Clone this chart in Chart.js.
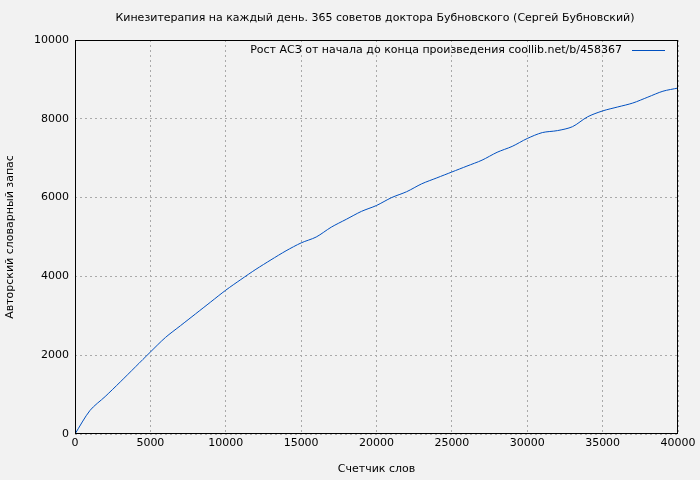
<!DOCTYPE html>
<html><head><meta charset="utf-8">
<script src="https://cdn.jsdelivr.net/npm/chart.js@4"></script>
<style>html,body{margin:0;background:#f2f2f2}#w{width:700px;height:480px}</style>
</head><body><div id="w"><canvas id="c"></canvas></div>
<script>
const words=[0,1000,2000,3000,4000,5000,6000,7000,8000,9000,10000,11000,12000,13000,14000,15000,16000,17000,18000,19000,20000,21000,22000,23000,24000,25000,26000,27000,28000,29000,30000,31000,32000,33000,34000,35000,36000,37000,38000,39000,40000];
const vocab=[0,600,950,1320,1700,2080,2450,2750,3050,3350,3650,3920,4180,4420,4650,4850,5000,5250,5450,5650,5800,6000,6150,6350,6500,6650,6800,6950,7150,7300,7500,7650,7700,7800,8050,8200,8300,8400,8550,8700,8780];
const title="Кинезитерапия на каждый день. 365 советов доктора Бубновского (Сергей Бубновский)";
const legendText="Рост АСЗ от начала до конца произведения coollib.net/b/458367";
const font={family:"DejaVu Sans",size:11};
const deco={id:'deco',afterDraw(ch){const c=ch.ctx,a=ch.chartArea;c.save();c.font="11px DejaVu Sans";c.fillStyle="#000";c.textAlign="center";c.textBaseline="middle";c.fillText(title,375,18);
c.textAlign="right";c.fillText(legendText,622,50);c.strokeStyle="#0050c0";c.lineWidth=1;c.beginPath();c.moveTo(632,50.5);c.lineTo(665,50.5);c.stroke();
c.strokeStyle="#000";c.strokeRect(a.left+0.5,a.top+0.5,a.right-a.left-1,a.bottom-a.top-1);c.restore();}};
new Chart(document.getElementById('c'),{type:'line',
data:{datasets:[{data:words.map((x,i)=>({x,y:vocab[i]})),borderColor:'#0050c0',borderWidth:1,pointRadius:0,tension:0.3}]},
options:{responsive:true,maintainAspectRatio:false,animation:false,layout:{padding:{top:40,right:22,left:0,bottom:0}},
plugins:{legend:{display:false},tooltip:{enabled:false}},
scales:{x:{type:'linear',min:0,max:40000,afterFit(s){s.height=46},ticks:{stepSize:5000,color:'#000',font,maxRotation:0,callback:v=>String(v)},
 grid:{color:'#aaa',drawTicks:false},border:{display:false,dash:[2,3]},title:{display:true,text:'Счетчик слов',color:'#000',font,padding:{top:4}}},
y:{min:0,max:10000,afterFit(s){s.width=75},ticks:{stepSize:2000,color:'#000',font,padding:6,callback:v=>String(v)},
 grid:{color:'#aaa',drawTicks:false},border:{display:false,dash:[2,3]},title:{display:true,text:'Авторский словарный запас',color:'#000',font,padding:{bottom:4}}}}},
plugins:[deco]});
</script></body></html>
